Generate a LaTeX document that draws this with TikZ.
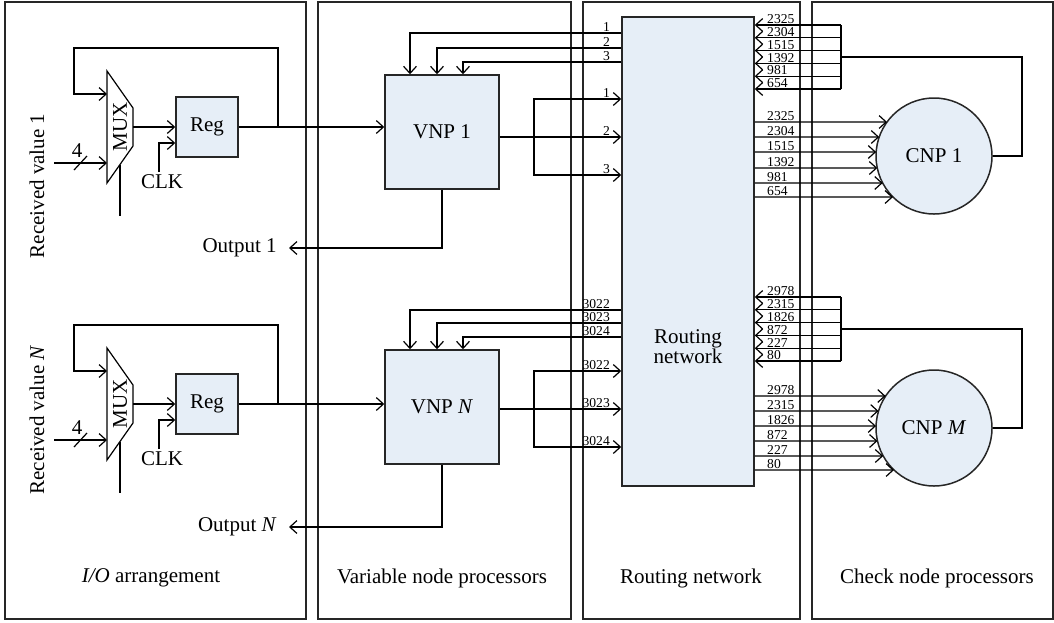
\documentclass[tikz,border=0pt]{standalone}
\usepackage{fontspec}
\setmainfont{Liberation Serif}
\usetikzlibrary{arrows.meta,calc,positioning}
\definecolor{blockblue}{RGB}{230,238,247}
\tikzset{>={Straight Barb[length=3.5pt,width=6.4pt]}}
\tikzset{
  panel/.style={draw=black!85, line width=0.75pt},
  wire/.style={line width=0.6pt},
  arrow/.style={wire,->},
  block/.style={draw=black!85, line width=0.75pt, fill=blockblue, inner sep=0pt,
    minimum width=57pt, minimum height=57pt},
  cnp/.style={block, circle, minimum size=58pt},
  num/.style={font=\fontsize{6.8}{7}\selectfont, inner sep=0.4pt}
}

\begin{document}
\begin{tikzpicture}[x=0.5pt, y=-0.5pt, font=\fontsize{10.5}{12}\selectfont]
            \useasboundingbox (0,0) rectangle (1054,622);
            % panels
            \draw[panel] (5,2) rectangle (306,619);
            \draw[panel] (318,2) rectangle (571,619);
            \draw[panel] (583,2) rectangle (800,619);
            \draw[panel] (812,2) rectangle (1053,619);
            \node (tio) at (151,578) {\textit{I/O} arrangement};
            \node (tvnp) at (442,578) {Variable node processors};
            \node (trn) at (691,578) {Routing network};
            \node (tcnp) at (937,578) {Check node processors};

            % routing network
            \node[block, minimum width=66pt, minimum height=234.5pt] (rn) at (688,251.5) {};
            \node[align=center, font=\fontsize{10.5}{10}\selectfont] (rnlab) at (688,347) {Routing\\network};

            % row 1
            \node[block, minimum width=31pt, minimum height=30pt] (reg1) at (207,127) {Reg};
            \node[block] (vnp1) at (442,132) {VNP 1};
            \draw[wire] (107,71) -- (133,108) -- (133,146) -- (107,183) -- cycle;
            \node[rotate=90] (mux1) at (120,127) {MUX};
            \coordinate (mux1fb) at (107,94);
            \coordinate (mux1in) at (107,163);
            \coordinate (mux1out) at (133,127);
            \coordinate (fb1) at (278,127);
            \node[rotate=90] (rv1) at (37,186) {Received value 1};
            \draw[arrow] (mux1out) -- (reg1.west);
            \draw[arrow] (reg1.east) -- (vnp1.west |- reg1.east);
            \draw[arrow] (fb1) |- (74,48) |- (mux1fb);
            \draw[arrow] (54,163) -- (mux1in);
            \draw[wire] (74,170) -- (87,156);
            \node (four1) at (77,151) {4};
            \node (clk1) at (162,182) {CLK};
            \draw[arrow] (159,172) |- (reg1.west |- 0,143);
            \draw[wire] (120,164.5) -- (120,216);
            \node[anchor=east, inner xsep=6pt] (out1) at (289,248) {Output 1};
            \draw[arrow] (vnp1.south) |- (out1.east);
            \foreach \yy/\xx/\lab in {33/410/1, 48/437/2, 62/463/3} {
              \draw[arrow] (rn.west |- 0,\yy) -| (vnp1.north -| \xx,0);
              \node[num, anchor=south east] (vi\lab) at (611,\yy) {\lab};
            }
            \draw[arrow] (vnp1.east |- 0,137) -- (rn.west |- 0,137);
            \draw[arrow] (534,137) |- (rn.west |- 0,99);
            \draw[arrow] (534,137) |- (rn.west |- 0,175);
            \foreach \yy/\lab in {99/1, 137/2, 175/3}
              \node[num, anchor=south east] (vo\lab) at (611,\yy) {\lab};

            % row N
            \node[block, minimum width=31pt, minimum height=30pt] (regN) at (207,404) {Reg};
            \node[block] (vnpN) at (442,407) {VNP \textit{N}};
            \draw[wire] (107,348) -- (133,385) -- (133,423) -- (107,460) -- cycle;
            \node[rotate=90] (muxN) at (120,404) {MUX};
            \coordinate (muxNfb) at (107,371);
            \coordinate (muxNin) at (107,440);
            \coordinate (muxNout) at (133,404);
            \coordinate (fbN) at (278,404);
            \node[rotate=90] (rvN) at (37,420) {Received value \textit{N}};
            \draw[arrow] (muxNout) -- (regN.west);
            \draw[arrow] (regN.east) -- (vnpN.west |- regN.east);
            \draw[arrow] (fbN) |- (74,325) |- (muxNfb);
            \draw[arrow] (54,440) -- (muxNin);
            \draw[wire] (74,447) -- (87,433);
            \node (fourN) at (77,428) {4};
            \node (clkN) at (162,459) {CLK};
            \draw[arrow] (159,449) |- (regN.west |- 0,420);
            \draw[wire] (120,441.5) -- (120,493);
            \node[anchor=east, inner xsep=6pt] (outN) at (289,527) {Output \textit{N}};
            \draw[arrow] (vnpN.south) |- (outN.east);
            \foreach \yy/\xx/\lab in {310/410/3022, 323/437/3023, 337/463/3024} {
              \draw[arrow] (rn.west |- 0,\yy) -| (vnpN.north -| \xx,0);
              \node[num, anchor=south east] (vi\lab) at (611,\yy) {\lab};
            }
            \draw[arrow] (vnpN.east |- 0,409) -- (rn.west |- 0,409);
            \draw[arrow] (534,409) |- (rn.west |- 0,371);
            \draw[arrow] (534,409) |- (rn.west |- 0,447);
            \foreach \yy/\lab in {371/3022, 409/3023, 447/3024}
              \node[num, anchor=south east] (vo\lab) at (611,\yy) {\lab};

            % check node processors
            \node[cnp] (cnp1) at (934,156) {CNP 1};
            \node[cnp] (cnpM) at (934,428) {CNP \textit{M}};
            \foreach \dd/\lab in {-34/2325, -19/2304, -4/1515, 12/1392, 27/981, 41/654} {
              \pgfmathsetmacro\yy{156+\dd}
              \pgfmathsetmacro\ang{180+asin(\dd/58)}
              \draw[arrow] (rn.east |- 0,\yy) -- ($(cnp1.center)+(\ang:29pt)$);
              \node[num, anchor=south west] (ci\lab) at (766,\yy) {\lab};
            }
            \foreach \dd/\lab in {-32/2978, -17/2315, -2/1826, 13/872, 28/227, 42/80} {
              \pgfmathsetmacro\yy{428+\dd}
              \pgfmathsetmacro\ang{180+asin(\dd/58)}
              \draw[arrow] (rn.east |- 0,\yy) -- ($(cnpM.center)+(\ang:29pt)$);
              \node[num, anchor=south west] (cj\lab) at (766,\yy) {\lab};
            }
            \foreach \k/\lab in {0/2325, 1/2304, 2/1515, 3/1392, 4/981, 5/654} {
              \pgfmathsetmacro\yy{25+12.8*\k}
              \draw[arrow] (841,\yy) -- (rn.east |- 0,\yy);
              \node[num, anchor=south west] (co\lab) at (766,\yy) {\lab};
            }
            \foreach \k/\lab in {0/2978, 1/2315, 2/1826, 3/872, 4/227, 5/80} {
              \pgfmathsetmacro\yy{297+12.8*\k}
              \draw[arrow] (841,\yy) -- (rn.east |- 0,\yy);
              \node[num, anchor=south west] (cp\lab) at (766,\yy) {\lab};
            }
            \draw[wire] (841,25) -- (841,89);
            \draw[wire] (841,297) -- (841,361);
            \draw[wire] (cnp1.east) -| (1022,57) -- (841,57);
            \draw[wire] (cnpM.east) -| (1022,329) -- (841,329);
        \end{tikzpicture}
\end{document}
